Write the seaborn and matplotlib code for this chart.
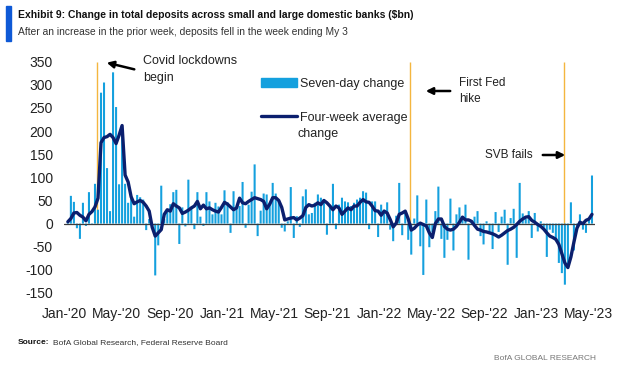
import numpy as np
import pandas as pd

import matplotlib
matplotlib.use('Agg')

import matplotlib.pyplot as plt
import seaborn as sns
from matplotlib.patches import Patch, Rectangle
from matplotlib.lines import Line2D


# =========================================================
# DATA  (weekly, $bn)
# =========================================================

first_week = "2020-01-08"

seven_day_change = [
    5, 60, 47, -10, -33, 45, -5, 68, -3, 86,
    30, 283, 305, 120, 27, 327, 252, 85, 195, 86,
    45, 60, 15, 62, 57, 52, -14, 10, -5, -112,
    -47, 82, 10, 25, 42, 68, 73, -44, 35, -6,
    95, 35, -12, 68, 15, -5, 68, 48, 20, 45,
    37, 20, 72, 46, -20, 70, 34, 38, 90, -9,
    41, 69, 128, -27, 28, 65, 63, 41, 88, 65,
    48, -9, -17, 5, 79, -31, 16, -7, 59, 74,
    20, 23, 45, 63, 56, 52, -24, 38, 86, -12,
    41, 56, 48, 46, 38, 45, 52, 56, 70, 67,
    -12, 48, 48, -29, 41, 30, 46, -13, -38, 17,
    88, -25, 27, -35, -67, 11, 61, -49, -111, 52,
    -51, -19, 27, 80, -33, -74, -35, 54, -58, 20,
    35, 10, 41, -78, 5, 15, 27, -27, -45, 5,
    -20, -55, 25, -18, 15, 30, -89, 12, 32, -74,
    88, 22, 10, 27, -31, 23, -17, 5, -9, -72,
    -13, -20, -35, -85, -107, -132, -90, 46, -58, -5,
    20, -13, -20, 10, 104,
]

four_week_average = [
    4, 11, 23, 24, 18, 14, 6, 20, 26, 36,
    55, 175, 186, 188, 193, 186, 173, 191, 212, 105,
    90, 58, 43, 47, 50, 46, 38, 27, -8, -27,
    -20, -13, 20, 30, 27, 43, 38, 34, 22, 25,
    29, 34, 38, 48, 32, 40, 32, 34, 30, 27,
    25, 35, 46, 42, 36, 30, 34, 55, 45, 43,
    48, 52, 56, 54, 52, 48, 32, 42, 56, 56,
    50, 35, 8, 10, 12, 13, 8, 12, 17, 35,
    41, 38, 40, 45, 41, 50, 45, 38, 30, 38,
    34, 20, 27, 34, 30, 38, 38, 46, 52, 47,
    46, 38, 28, 27, 18, 27, 23, 9, -7, 1,
    20, 23, 27, 10, -14, -10, -3, 1, -2, -5,
    -20, -30, 0, 10, 10, -6, -12, -14, -12, -6,
    3, 14, 8, 8, 5, -4, -12, -14, -17, -18,
    -20, -22, -25, -29, -25, -20, -15, -12, -8, -2,
    5, 10, 14, 15, 7, 3, -2, -6, -12, -20,
    -27, -30, -34, -45, -65, -85, -95, -72, -40, -10,
    3, 0, 7, 10, 20,
]

event_dates = ["2020-03-16", "2022-03-14", "2023-03-05"]

tick_dates = [
    "2020-01-01", "2020-05-01", "2020-09-01",
    "2021-01-01", "2021-05-01", "2021-09-01",
    "2022-01-01", "2022-05-01", "2022-09-01",
    "2023-01-01", "2023-05-01",
]

tick_labels = [
    "Jan-'20", "May-'20", "Sep-'20",
    "Jan-'21", "May-'21", "Sep-'21",
    "Jan-'22", "May-'22", "Sep-'22",
    "Jan-'23", "May-'23",
]

y_ticks = [350, 300, 250, 200, 150, 100, 50, 0, -50, -100, -150]


weeks = pd.date_range(first_week, periods=len(seven_day_change), freq="7D")

df = pd.DataFrame({
    "week": weeks,
    "seven_day": seven_day_change,
    "four_week": four_week_average,
})


# =========================================================
# STYLE
# =========================================================

sns.set_theme(style="white")

plt.rcParams["font.family"] = ["Liberation Sans", "DejaVu Sans"]

BAR_BLUE = "#14A0DE"
NAVY = "#0B1F6E"
GOLD = "#F4B63F"
TEXT = "#222222"

W, H = 634, 367


# =========================================================
# FIGURE
# =========================================================

fig = plt.figure(figsize=(W / 100, H / 100), dpi=100)

ax = fig.add_axes([64 / W, 74 / H, 531 / W, 231.3 / H])

ax.vlines(
    pd.to_datetime(event_dates), 0, 350,
    color=GOLD, lw=1.0, zorder=1
)

bars = ax.bar(
    df["week"], df["seven_day"],
    width=4.8, color=BAR_BLUE, linewidth=0, zorder=2
)
for b in bars:
    b.set_snap(False)

ax.axhline(0, color="#3c3c3c", lw=0.9, zorder=3)

sns.lineplot(
    data=df, x="week", y="four_week",
    color=NAVY, lw=2.4, ax=ax, zorder=4
)

ax.set_xlim(pd.Timestamp("2019-12-30"), pd.Timestamp("2023-05-17"))
ax.set_ylim(-150, 350)

ax.set_yticks(y_ticks)
ax.set_yticklabels([str(v) for v in y_ticks])

ax.set_xticks(pd.to_datetime(tick_dates))
ax.set_xticklabels(tick_labels)

ax.tick_params(axis="y", length=0, pad=8, labelsize=10, labelcolor=TEXT)
ax.tick_params(axis="x", length=0, pad=10, labelsize=10, labelcolor=TEXT)

ax.set_xlabel("")
ax.set_ylabel("")

for s in ax.spines.values():
    s.set_visible(False)


# =========================================================
# LEGEND
# =========================================================

handles = [
    Patch(color=BAR_BLUE),
    Line2D([], [], color=NAVY, lw=2.4),
]

ax.legend(
    handles,
    ["Seven-day change", "Four-week average"],
    loc="upper left",
    bbox_to_anchor=(261 / W, (H - 78) / H),
    bbox_transform=fig.transFigure,
    frameon=False,
    fontsize=9,
    handlelength=2.9,
    handleheight=0.7,
    handletextpad=0.25,
    labelspacing=1.72,
    borderpad=0,
    borderaxespad=0,
    labelcolor=TEXT,
)

fig.text(298 / W, 1 - 134 / H, "change",
         fontsize=9, color=TEXT, va="center")


# =========================================================
# ANNOTATIONS
# =========================================================

def img(x, y):
    return (x, H - y)

arrow = dict(arrowstyle="-|>", color="black", lw=1.8, mutation_scale=10)

ax.annotate(
    "", xy=img(104, 62), xytext=img(137, 70),
    xycoords="figure pixels", textcoords="figure pixels",
    arrowprops=arrow
)
fig.text(143 / W, 1 - 61 / H, "Covid lockdowns",
         fontsize=9, color=TEXT, va="center")
fig.text(143 / W, 1 - 78 / H, "begin",
         fontsize=9, color=TEXT, va="center")

ax.annotate(
    "", xy=img(423, 91), xytext=img(453, 91),
    xycoords="figure pixels", textcoords="figure pixels",
    arrowprops=arrow
)
fig.text(459 / W, 1 - 83 / H, "First Fed",
         fontsize=8.5, color=TEXT, va="center")
fig.text(459 / W, 1 - 99 / H, "hike",
         fontsize=8.5, color=TEXT, va="center")

ax.annotate(
    "", xy=img(568, 155), xytext=img(540, 155),
    xycoords="figure pixels", textcoords="figure pixels",
    arrowprops=arrow
)
fig.text(533 / W, 1 - 155 / H, "SVB fails",
         fontsize=8.5, color=TEXT, va="center", ha="right")


# =========================================================
# TITLES / FOOTER
# =========================================================

fig.patches.append(Rectangle(
    (6 / W, 1 - 41 / H), 5 / W, 35 / H,
    transform=fig.transFigure, color="#0E59D6"
))

fig.text(18 / W, 1 - 15 / H,
         "Exhibit 9: Change in total deposits across small and large domestic banks ($bn)",
         fontsize=7.5, fontweight="bold", color="#111111", va="center")

fig.text(18 / W, 1 - 32 / H,
         "After an increase in the prior week, deposits fell in the week ending My 3",
         fontsize=7.4, color="#333333", va="center")

fig.text(18 / W, 1 - 343 / H, "Source:",
         fontsize=6, fontweight="bold", color="#111111", va="center")
fig.text(53 / W, 1 - 343 / H, "BofA Global Research, Federal Reserve Board",
         fontsize=6, color="#333333", va="center")

fig.text(596 / W, 1 - 358 / H, "BofA GLOBAL RESEARCH",
         fontsize=6, color="#777777", va="center", ha="right")


plt.savefig("out.png", dpi=100)
plt.close()
